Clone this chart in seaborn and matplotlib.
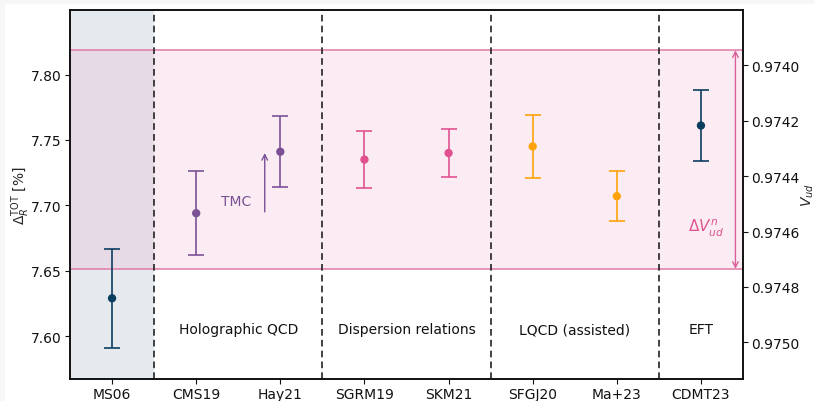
import matplotlib
matplotlib.use("Agg")
import matplotlib.pyplot as plt
from matplotlib.patches import Rectangle
import numpy as np
import pandas as pd
import seaborn as sns

# Radiative correction determinations
labels = ["MS06", "CMS19", "Hay21", "SGRM19", "SKM21", "SFGJ20", "Ma+23", "CDMT23"]
delta_r = [7.629, 7.694, 7.741, 7.735, 7.740, 7.745, 7.707, 7.761]
err_up = [0.038, 0.032, 0.027, 0.022, 0.018, 0.024, 0.019, 0.027]
err_dn = [0.038, 0.032, 0.027, 0.022, 0.018, 0.024, 0.019, 0.027]
colors = ["#0b3d5e", "#7a5195", "#7a5195", "#e0528f", "#e0528f", "#ffa20a", "#ffa20a", "#0b3d5e"]

groups = ["Holographic QCD", "Dispersion relations", "LQCD (assisted)", "EFT"]
group_centers = [1.5, 3.5, 5.5, 7.0]
separators = [0.5, 2.5, 4.5, 6.5]

# Neutron-decay band
band_lo, band_hi = 7.6515, 7.8185

# Right axis (V_ud) ticks
vud_ticks = [0.9740, 0.9742, 0.9744, 0.9746, 0.9748, 0.9750]

df = pd.DataFrame({"x": np.arange(len(labels)), "y": delta_r, "label": labels})

sns.set_style("ticks")
fig = plt.figure(figsize=(8.15, 4.02), dpi=100, facecolor="#f7f7f7")
fig.patches.append(Rectangle((5 / 815, 0), 1, 1 - 5 / 402, transform=fig.transFigure,
                             facecolor="white", edgecolor="none", zorder=-10))
ax = fig.add_axes([70 / 815, 22 / 402, 673 / 815, 369 / 402])
ax.set_xlim(-0.5, 7.5)
ax.set_ylim(7.5673, 7.8493)

ax.axvspan(-0.5, 0.5, color="#e5eaef", zorder=0, lw=0)
ax.axhspan(band_lo, band_hi, color="#e88fb8", alpha=0.17, zorder=0.5, lw=0)
ax.axhline(band_lo, color="#e07aa8", lw=1.1, zorder=1)
ax.axhline(band_hi, color="#e07aa8", lw=1.1, zorder=1)

for s in separators:
    ax.axvline(s, color="#222222", ls=(0, (4, 2.5)), lw=1.2, zorder=2)

for i in range(len(labels)):
    ax.errorbar(i, delta_r[i], yerr=[[err_dn[i]], [err_up[i]]], fmt="none",
                ecolor=colors[i], elinewidth=1.4, capsize=6, capthick=1.4,
                alpha=0.85, zorder=3)

sns.scatterplot(data=df, x="x", y="y", hue="label", palette=colors, s=36,
                edgecolor="none", legend=False, ax=ax, zorder=4)

for g, c in zip(groups, group_centers):
    ax.text(c, 7.6055, g, ha="center", va="center", fontsize=10, color="#111111")

ax.text(1.48, 7.7035, "TMC", ha="center", va="center", fontsize=10, color="#7a5195")
ax.annotate("", xy=(1.815, 7.740), xytext=(1.815, 7.695),
            arrowprops=dict(arrowstyle="->", color="#7a5195", lw=1.0,
                            shrinkA=0, shrinkB=0))

ax.annotate("", xy=(7.41, band_hi), xytext=(7.41, band_lo),
            arrowprops=dict(arrowstyle="<->", color="#d9609a", lw=1.0,
                            shrinkA=0, shrinkB=0))
ax.text(7.06, 7.683, r"$\Delta V^{n}_{ud}$", ha="center", va="center",
        fontsize=11, color="#e0528f")

ax.set_xticks(np.arange(len(labels)))
ax.set_xticklabels(labels)
ax.set_yticks([7.60, 7.65, 7.70, 7.75, 7.80])
ax.set_yticklabels(["7.60", "7.65", "7.70", "7.75", "7.80"])
ax.set_xlabel("")
ax.set_ylabel(r"$\Delta_R^{\rm TOT}$ [%]", fontsize=10, labelpad=-1)
ax.tick_params(labelsize=10, colors="#111111", length=3.5, pad=2.5)
for sp in ax.spines.values():
    sp.set_linewidth(1.2)
    sp.set_color("#111111")

ax2 = ax.twinx()
ax2.set_ylim(0.975132, 0.973801)
ax2.set_yticks(vud_ticks)
ax2.set_yticklabels([f"{v:.4f}" for v in vud_ticks])
ax2.set_ylabel(r"$V_{ud}$", fontsize=10, labelpad=0)
ax2.tick_params(labelsize=10, colors="#111111", length=3.5, pad=2.5)
for sp in ax2.spines.values():
    sp.set_linewidth(1.2)
    sp.set_color("#111111")

fig.savefig("out.png", dpi=100, facecolor=fig.get_facecolor())
